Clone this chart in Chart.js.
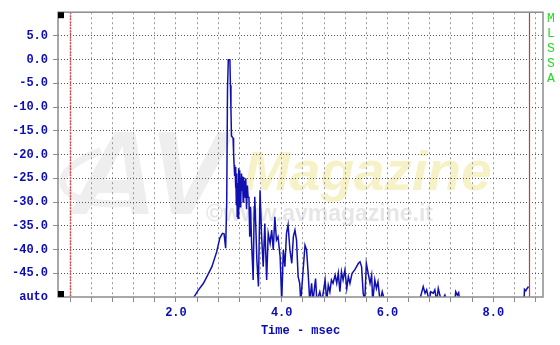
<!DOCTYPE html>
<html>
<head>
<meta charset="utf-8">
<script src="https://cdn.jsdelivr.net/npm/chart.js@4.4.1/dist/chart.umd.min.js"></script>
<style>
html,body{margin:0;padding:0;background:#ffffff;}
#wrap{width:560px;height:345px;}
</style>
</head>
<body>
<div id="wrap"><canvas id="c" width="560" height="345"></canvas></div>
<script>
// ---- data (time in msec, level in dB; -51 = below the "auto" floor) ----
const times = [
  2.30, 2.34, 2.42, 2.52, 2.60, 2.68, 2.77, 2.83, 2.88, 2.91, 2.94, 2.96, 2.975, 2.99, 3.02, 3.03, 3.04, 3.05, 3.08, 3.09,
  3.100, 3.110, 3.118, 3.126, 3.134, 3.142, 3.150, 3.158, 3.166, 3.174, 3.182, 3.190, 3.198, 3.206, 3.214, 3.222, 3.230, 3.240, 3.250, 3.260,
  3.270, 3.280, 3.290, 3.300, 3.310, 3.320, 3.335, 3.350, 3.365, 3.380, 3.395, 3.41, 3.43, 3.45, 3.46,
  3.48, 3.49, 3.51, 3.53, 3.56, 3.59, 3.62, 3.65, 3.68, 3.715, 3.745, 3.78, 3.81, 3.84, 3.87, 3.90, 3.93, 3.97, 4.00, 4.03,
  4.06, 4.09, 4.12, 4.155, 4.19, 4.22, 4.25, 4.28, 4.31, 4.34, 4.36, 4.44, 4.47, 4.50, 4.53, 4.565, 4.59, 4.64, 4.665, 4.72,
  4.76, 4.82, 4.85, 4.88, 4.91, 4.94, 4.97, 5.01, 5.04, 5.07, 5.10, 5.13, 5.16, 5.195, 5.23, 5.26, 5.29, 5.33, 5.38, 5.415,
  5.45, 5.48, 5.51, 5.54, 5.57, 5.60, 5.635, 5.67, 5.70, 5.72, 5.76, 5.79, 5.82, 5.86, 5.90, 5.95, 6.60, 6.675, 6.71, 6.74,
  6.79, 6.815, 6.865, 6.895, 6.93, 6.96, 6.99, 7.02, 7.085, 7.12, 7.27, 7.29, 7.32, 7.345, 7.37, 8.58, 8.59, 8.615, 8.64, 8.667
];
const levels = [
  -51, -50, -48.6, -47.1, -45.4, -43.6, -40.5, -37.6, -36.6, -36.7, -39.7, -30, -6, 0.0, 0.0, -5.4, -10.6, -16.1, -16.5, -19.7,
  -22.2, -24.5, -22.6, -27.0, -23.0, -30.5, -24.0, -33.0, -26.0, -33.4, -24.5, -22.9, -28.0, -23.3, -31.0, -25.0, -29.5, -24.0, -27.5, -24.6,
  -30.0, -24.7, -28.5, -25.5, -29.0, -25.0, -31.5, -26.5, -29.0, -28.9, -37.3, -31.0, -38.5, -43.6, -46.4,
  -31.0, -28.9, -35.2, -42.2, -47.8, -27.5, -37.3, -43.6, -34.5, -46.4, -36.6, -38.7, -35.9, -40.1, -33.1, -38.0, -37.3, -41.5, -51, -40.1,
  -43.6, -36.6, -34.8, -40.1, -42.9, -37.3, -35.9, -38.0, -45.7, -47.1, -51, -39.1, -40.1, -45.0, -51, -47.1, -51, -46.1, -51, -48.9,
  -51, -46.4, -51, -47.5, -48.9, -46.4, -47.1, -45.4, -47.1, -45.0, -48.9, -44.7, -46.4, -44.3, -48.2, -45.7, -47.1, -45.0, -44.3, -43.6,
  -42.9, -42.6, -43.6, -49.2, -51, -42.9, -45.0, -47.1, -45.4, -51, -46.4, -48.2, -46.8, -51, -48.9, -51, -51, -47.8, -49.2, -48.5,
  -51, -48.9, -49.2, -48.5, -51, -48.2, -49.6, -51, -49.6, -51, -51, -48.9, -49.6, -49.1, -51, -51, -48.4, -48.7, -48.2, -47.8
];
const yTickValues = [-50, -45, -40, -35, -30, -25, -20, -15, -10, -5, 0, 5, 10];
const yTickLabels = ['auto', '-45.0', '-40.0', '-35.0', '-30.0', '-25.0', '-20.0', '-15.0', '-10.0', '-5.0', '0.0', '5.0', ''];
const xTickValues = [0, 0.4, 0.8, 1.2, 1.6, 2.0, 2.4, 2.8, 3.2, 3.6, 4.0, 4.4, 4.8, 5.2, 5.6, 6.0, 6.4, 6.8, 7.2, 7.6, 8.0, 8.4, 8.8];
const xLabelValues = [2, 4, 6, 8];
const xLabelTexts = ['2.0', '4.0', '6.0', '8.0'];
const markerTimes = [0, 8.68];
const sideLetters = ['M', 'L', 'S', 'S', 'A'];
const xTitle = 'Time - msec';

const BLUE = '#0c0cb0';
const tickFont = {family: '"Liberation Mono", "Courier New", monospace', size: 12, weight: 'bold'};

const overlay = {
  id: 'overlay',
  beforeDraw(chart) {
    const ctx = chart.ctx;
    ctx.save();
    ctx.fillStyle = '#ffffff';
    ctx.fillRect(0, 0, chart.width, chart.height);
    // faint watermark
    ctx.strokeStyle = '#efefef';
    ctx.lineWidth = 7;
    ctx.beginPath();
    ctx.ellipse(140, 172, 78, 30, -0.15, Math.PI * 0.55, Math.PI * 1.35);
    ctx.stroke();
    ctx.font = 'italic bold 118px "Liberation Sans", Arial, sans-serif';
    ctx.fillStyle = '#eeeeee';
    ctx.textBaseline = 'alphabetic';
    ctx.fillText('AV', 72, 214);
    ctx.font = 'italic bold 55px "Liberation Sans", Arial, sans-serif';
    ctx.fillStyle = '#f6f1c6';
    ctx.fillText('Magazine', 244, 190);
    ctx.font = 'bold 23px "Liberation Sans", Arial, sans-serif';
    ctx.fillStyle = '#e6e6e6';
    ctx.fillText('\u00A9www.avmagazine.it', 206, 221);
    ctx.restore();
  },
  afterDraw(chart) {
    const ctx = chart.ctx;
    const a = chart.chartArea;
    const xs = chart.scales.x;
    ctx.save();
    // marker lines
    const x0 = Math.round(xs.getPixelForValue(markerTimes[0])) + 0.5;
    ctx.strokeStyle = '#d84a4a';
    ctx.lineWidth = 1.5;
    ctx.setLineDash([2, 1]);
    ctx.beginPath(); ctx.moveTo(x0, a.top); ctx.lineTo(x0, a.bottom); ctx.stroke();
    const x1 = Math.round(xs.getPixelForValue(markerTimes[1])) + 0.5;
    ctx.setLineDash([]);
    ctx.strokeStyle = '#c83a3a';
    ctx.lineWidth = 1.2;
    ctx.beginPath(); ctx.moveTo(x1, a.top); ctx.lineTo(x1, a.bottom); ctx.stroke();
    // frame
    ctx.strokeStyle = '#8c8c8c';
    ctx.lineWidth = 1.5;
    ctx.strokeRect(a.left, a.top, a.right - a.left, a.bottom - a.top);
    // black corner squares
    ctx.fillStyle = '#000000';
    ctx.fillRect(a.left, a.top, 6, 6);
    ctx.fillRect(a.left, a.bottom - 6, 6, 6);
    // side letters
    ctx.fillStyle = '#22dd22';
    ctx.font = '13px "Liberation Mono", "Courier New", monospace';
    ctx.textAlign = 'center';
    ctx.textBaseline = 'middle';
    sideLetters.forEach((ch, i) => ctx.fillText(ch, 551, 19 + i * 14.8));
    ctx.restore();
  }
};

new Chart(document.getElementById('c'), {
  type: 'line',
  data: {
    datasets: [{
      data: times.map((t, i) => ({x: t, y: levels[i]})),
      borderColor: '#1010b0',
      borderWidth: 1.5,
      pointRadius: 0,
      tension: 0,
      fill: false,
      clip: 0
    }]
  },
  options: {
    responsive: false,
    animation: false,
    events: [],
    layout: {padding: {top: 12, right: 17, left: 0, bottom: 0}},
    plugins: {legend: {display: false}, tooltip: {enabled: false}},
    scales: {
      x: {
        type: 'linear',
        min: -0.23,
        max: 8.94,
        afterBuildTicks: s => { s.ticks = xTickValues.map(v => ({value: v})); },
        afterFit: s => { s.height = 48; },
        ticks: {
          autoSkip: false,
          maxRotation: 0,
          padding: 4,
          color: BLUE,
          font: tickFont,
          callback: v => {
            const i = xLabelValues.findIndex(a => Math.abs(a - v) < 1e-6);
            return i >= 0 ? xLabelTexts[i] : '';
          }
        },
        grid: {
          color: '#9a9a9a',
          lineWidth: 1,
          tickLength: 5,
          tickColor: '#8c8c8c',
          tickWidth: 1,
          tickBorderDash: []
        },
        border: {display: false, dash: [2, 3]},
        title: {
          display: true,
          text: xTitle,
          color: BLUE,
          font: {family: '"Liberation Mono", "Courier New", monospace', size: 12, weight: 'bold'},
          padding: {top: 0, bottom: 7}
        }
      },
      y: {
        type: 'linear',
        min: -50,
        max: 10,
        afterBuildTicks: s => { s.ticks = yTickValues.map(v => ({value: v})); },
        afterFit: s => { s.width = 58; },
        ticks: {
          padding: 5,
          color: BLUE,
          font: tickFont,
          callback: v => {
            const i = yTickValues.indexOf(v);
            return i >= 0 ? yTickLabels[i] : '';
          }
        },
        grid: {
          color: ctx => (ctx.tick && (ctx.tick.value === -50 || ctx.tick.value === 10)) ? 'rgba(0,0,0,0)' : '#555555',
          lineWidth: 1,
          tickLength: 5,
          tickColor: ctx => (ctx.tick && (ctx.tick.value === -50 || ctx.tick.value === 10)) ? 'rgba(0,0,0,0)' : '#8c8c8c',
          tickWidth: 1,
          tickBorderDash: []
        },
        border: {display: false, dash: [1, 2]}
      }
    }
  },
  plugins: [overlay]
});
</script>
</body>
</html>
